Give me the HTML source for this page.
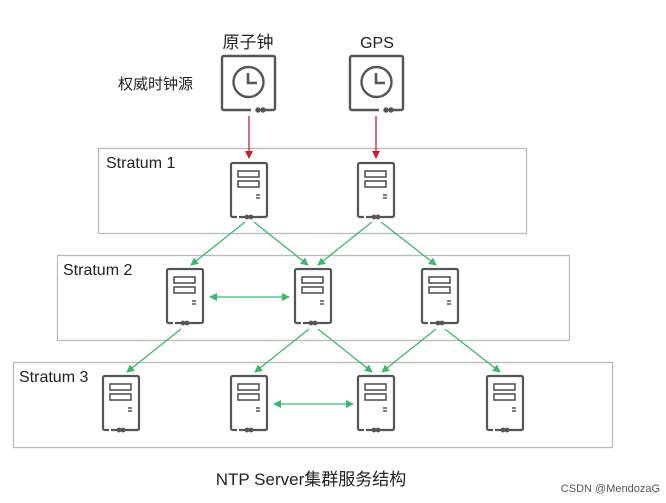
<!DOCTYPE html>
<html><head><meta charset="utf-8"><style>
body{margin:0;background:#fff;}
svg{display:block}
text{font-family:"Liberation Sans","Noto Sans CJK SC",sans-serif;fill:#222}
</style></head><body>
<svg width="666" height="503" viewBox="0 0 666 503" xmlns="http://www.w3.org/2000/svg">
<defs>
<marker id="g" markerWidth="8" markerHeight="8" refX="7" refY="4" orient="auto" markerUnits="userSpaceOnUse"><path d="M0,0 L8,4 L0,8 z" fill="#3cb86a"/></marker>
<marker id="gs" markerWidth="8" markerHeight="8" refX="1" refY="4" orient="auto" markerUnits="userSpaceOnUse"><path d="M8,0 L0,4 L8,8 z" fill="#3cb86a"/></marker>
<marker id="r" markerWidth="8" markerHeight="8" refX="7" refY="4" orient="auto" markerUnits="userSpaceOnUse"><path d="M0,0 L8,4 L0,8 z" fill="#c8202a"/></marker>
<g id="srv" fill="none" stroke="#555" stroke-width="2.2">
<path d="M6,54 H2 Q0,54 0,52 V2 Q0,0 2,0 H34 Q36,0 36,2 V52 Q36,54 34,54 H21"/>
<path d="M15,54 H8" />
<circle cx="16" cy="54" r="1.3" fill="#555"/><circle cx="20" cy="54" r="1.3" fill="#555"/>
<rect x="7" y="8" width="21" height="6" stroke-width="1.6"/>
<rect x="7" y="18" width="21" height="6" stroke-width="1.6"/>
<path d="M25,32 h4 M25,35 h4" stroke-width="1.6"/>
</g>
<g id="clk" fill="none" stroke="#555" stroke-width="2.4">
<path d="M29,54 H2 Q0,54 0,52 V2 Q0,0 2,0 H51 Q53,0 53,2 V52 Q53,54 51,54 H43"/>
<circle cx="36" cy="54" r="1.5" fill="#555"/><circle cx="41" cy="54" r="1.5" fill="#555"/>
<circle cx="26.5" cy="26" r="15"/>
<path d="M26,17 V27 H35" stroke-width="2.6"/>
</g>
</defs>
<rect x="98.5" y="148.5" width="428" height="85" fill="none" stroke="#bbb" stroke-width="1.3"/>
<rect x="57.5" y="255.5" width="512" height="85" fill="none" stroke="#bbb" stroke-width="1.3"/>
<rect x="13.5" y="362.5" width="599" height="85" fill="none" stroke="#bbb" stroke-width="1.3"/>
<text x="106" y="168" font-size="16">Stratum 1</text>
<text x="63" y="275" font-size="16">Stratum 2</text>
<text x="19" y="382" font-size="16">Stratum 3</text>
<text x="248" y="48" font-size="17" text-anchor="middle">原子钟</text>
<text x="377" y="48" font-size="16" text-anchor="middle">GPS</text>
<text x="118" y="89" font-size="15">权威时钟源</text>
<text x="311" y="485" font-size="17" text-anchor="middle">NTP Server集群服务结构</text>
<text x="660" y="492" font-size="11" text-anchor="end" style="fill:#555">CSDN @MendozaG</text>
<use href="#clk" x="222" y="56"/>
<use href="#clk" x="350" y="56"/>
<g stroke="#c8202a" stroke-width="1.3"><line x1="249" y1="116" x2="249" y2="158" marker-end="url(#r)"/><line x1="376" y1="116" x2="376" y2="158" marker-end="url(#r)"/></g>
<use href="#srv" x="231" y="163"/><use href="#srv" x="358" y="163"/>
<use href="#srv" x="167" y="269"/><use href="#srv" x="295" y="269"/><use href="#srv" x="422" y="269"/>
<use href="#srv" x="103" y="376"/><use href="#srv" x="231" y="376"/><use href="#srv" x="358" y="376"/><use href="#srv" x="487" y="376"/>
<g stroke="#3cb86a" stroke-width="1.3" marker-end="url(#g)">
<line x1="245" y1="222" x2="191" y2="265"/>
<line x1="254" y1="222" x2="308" y2="265"/>
<line x1="372" y1="222" x2="318" y2="265"/>
<line x1="381" y1="222" x2="436" y2="265"/>
<line x1="181" y1="329" x2="127" y2="372"/>
<line x1="309" y1="329" x2="255" y2="372"/>
<line x1="318" y1="329" x2="372" y2="372"/>
<line x1="436" y1="329" x2="382" y2="372"/>
<line x1="445" y1="329" x2="500" y2="372"/>
<line x1="210" y1="297" x2="289" y2="297" marker-start="url(#gs)"/>
<line x1="274" y1="404" x2="353" y2="404" marker-start="url(#gs)"/>
</g>
</svg>
</body></html>
